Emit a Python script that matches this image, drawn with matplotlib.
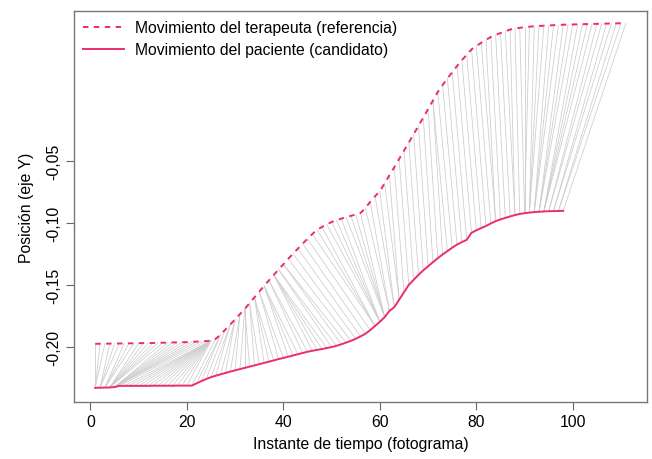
import numpy as np
import matplotlib
matplotlib.use("Agg")
import matplotlib.pyplot as plt

plt.rcParams["font.family"] = ["Liberation Sans", "DejaVu Sans"]

# movimiento del terapeuta (referencia), un valor por fotograma
terapeuta = [
    -0.1976, -0.1975, -0.1975, -0.1974, -0.1974, -0.1973, -0.1973, -0.1972, -0.1972, -0.1971,
    -0.1970, -0.1970, -0.1969, -0.1968, -0.1967, -0.1966, -0.1965, -0.1964, -0.1963, -0.1962,
    -0.1960, -0.1958, -0.1956, -0.1954, -0.1950, -0.1935, -0.1900, -0.1860, -0.1820, -0.1778,
    -0.1736, -0.1694, -0.1648, -0.1601, -0.1555, -0.1508, -0.1464, -0.1420, -0.1377, -0.1334,
    -0.1290, -0.1249, -0.1208, -0.1167, -0.1129, -0.1090, -0.1055, -0.1033, -0.1012, -0.0993,
    -0.0978, -0.0966, -0.0954, -0.0943, -0.0933, -0.0920, -0.0880, -0.0830, -0.0785, -0.0745,
    -0.0680, -0.0615, -0.0550, -0.0484, -0.0418, -0.0352, -0.0285, -0.0218, -0.0150, -0.0082,
    -0.0013, 0.0056, 0.0112, 0.0165, 0.0216, 0.0266, 0.0312, 0.0357, 0.0400, 0.0427,
    0.0453, 0.0477, 0.0500, 0.0517, 0.0532, 0.0546, 0.0560, 0.0568, 0.0574, 0.0579,
    0.0583, 0.0587, 0.0589, 0.0591, 0.0593, 0.0595, 0.0597, 0.0599, 0.0600, 0.0601,
    0.0602, 0.0603, 0.0604, 0.0605, 0.0606, 0.0607, 0.0608, 0.0609, 0.0610, 0.0611,
    0.0612,
]

# movimiento del paciente (candidato)
paciente = [
    -0.2331, -0.2330, -0.2329, -0.2328, -0.2325, -0.2315, -0.2315, -0.2315, -0.2315, -0.2315,
    -0.2315, -0.2315, -0.2314, -0.2314, -0.2314, -0.2314, -0.2314, -0.2313, -0.2313, -0.2313,
    -0.2313, -0.2295, -0.2277, -0.2260, -0.2245, -0.2233, -0.2222, -0.2211, -0.2200, -0.2190,
    -0.2180, -0.2170, -0.2160, -0.2150, -0.2140, -0.2130, -0.2120, -0.2110, -0.2099, -0.2090,
    -0.2080, -0.2070, -0.2060, -0.2050, -0.2040, -0.2032, -0.2025, -0.2018, -0.2010, -0.2002,
    -0.1992, -0.1980, -0.1966, -0.1952, -0.1935, -0.1916, -0.1895, -0.1865, -0.1832, -0.1798,
    -0.1760, -0.1710, -0.1680, -0.1620, -0.1560, -0.1500, -0.1460, -0.1420, -0.1383, -0.1350,
    -0.1317, -0.1285, -0.1255, -0.1228, -0.1200, -0.1175, -0.1155, -0.1137, -0.1080, -0.1060,
    -0.1042, -0.1025, -0.1005, -0.0986, -0.0972, -0.0960, -0.0948, -0.0937, -0.0928, -0.0922,
    -0.0917, -0.0913, -0.0910, -0.0908, -0.0906, -0.0905, -0.0904, -0.0903,
]

yticks = [-0.20, -0.15, -0.10, -0.05]
ytick_labels = ["-0,20", "-0,15", "-0,10", "-0,05"]
xticks = [0, 20, 40, 60, 80, 100]


def dtw_path(a, b):
    # DTW simetrico (symmetric2) sobre las series normalizadas
    a = (a - a.min()) / (a.max() - a.min())
    b = (b - b.min()) / (b.max() - b.min())
    n, m = len(a), len(b)
    d = np.abs(a[:, None] - b[None, :])
    g = np.full((n, m), np.inf)
    g[0, 0] = d[0, 0]
    for i in range(n):
        for j in range(m):
            if i == 0 and j == 0:
                continue
            c = np.inf
            if i > 0:
                c = min(c, g[i - 1, j] + d[i, j])
            if j > 0:
                c = min(c, g[i, j - 1] + d[i, j])
            if i > 0 and j > 0:
                c = min(c, g[i - 1, j - 1] + 2 * d[i, j])
            g[i, j] = c
    i, j = n - 1, m - 1
    path = [(i, j)]
    while i > 0 or j > 0:
        opts = []
        if i > 0 and j > 0:
            opts.append((g[i - 1, j - 1], i - 1, j - 1))
        if i > 0:
            opts.append((g[i - 1, j], i - 1, j))
        if j > 0:
            opts.append((g[i, j - 1], i, j - 1))
        _, i, j = min(opts)
        path.append((i, j))
    return path[::-1]


ref = np.array(terapeuta)
qry = np.array(paciente)
xr = np.arange(1, len(ref) + 1)
xq = np.arange(1, len(qry) + 1)

fig = plt.figure(figsize=(6.52, 4.6), dpi=100)
ax = fig.add_axes([0.1135, 0.124, 0.879, 0.850])

for i, j in dtw_path(ref, qry):
    ax.plot([xr[i], xq[j]], [ref[i], qry[j]], color="#cccccc", lw=0.55, zorder=1)

col = "#EE2D66"
ax.plot(xr, ref, color=col, lw=1.4, ls=(0, (2.8, 2.8)), zorder=3,
        label="Movimiento del terapeuta (referencia)")
ax.plot(xq, qry, color=col, lw=1.4, zorder=3,
        label="Movimiento del paciente (candidato)")

fs = 11.3
ax.set_xlim(-3.4, 115.4)
ax.set_ylim(-0.2445, 0.0710)
ax.set_xticks(xticks)
ax.set_xticklabels([str(t) for t in xticks])
ax.set_yticks(yticks)
ax.set_yticklabels(ytick_labels, rotation=90, va="center")
ax.tick_params(labelsize=fs, length=6, color="#666666", pad=3)

for s in ax.spines.values():
    s.set_color("#777777")
    s.set_linewidth(1.0)

ax.set_xlabel("Instante de tiempo (fotograma)", fontsize=fs, labelpad=5)
ax.set_ylabel("Posición (eje Y)", fontsize=fs, labelpad=9)

ax.legend(loc="upper left", frameon=False, fontsize=fs, handlelength=2.6,
          handletextpad=0.7, borderaxespad=0.2, labelspacing=0.45)

fig.savefig("out.png", dpi=100)
